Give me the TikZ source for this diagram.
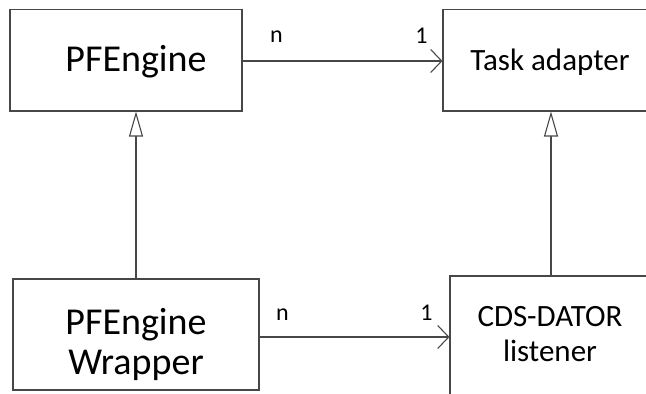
\documentclass[tikz,border=0pt]{standalone}
\usepackage{fontspec}
\setmainfont{Carlito}
\usetikzlibrary{arrows.meta}
\tikzset{
  umlbox/.style={draw=black!72, line width=1.1pt, fill=white, inner sep=0pt},
  bigtxt/.style={font=\fontsize{38}{40}\selectfont, inner sep=0pt, align=center},
  midtxt/.style={font=\fontsize{31}{35}\selectfont, inner sep=0pt, align=center},
  multtxt/.style={font=\fontsize{24}{28}\selectfont, inner sep=0pt, anchor=base},
  assoc/.style={draw=black!72, line width=1.1pt, -{Straight Barb[length=11pt,width=23pt,line width=1.1pt]}},
  inherit/.style={draw=black!72, line width=1.1pt, -{Triangle[open,length=25pt,width=14pt,line width=1.1pt,fill=white]}}
}
\begin{document}
\begin{tikzpicture}[x=1pt,y=-1pt]
  \useasboundingbox (0,0) rectangle (646,394);
  \clip (0,0) rectangle (646,394);
  \fill[white] (0,0) rectangle (646,394);

  % class boxes
  \node[umlbox, minimum width=232pt, minimum height=101.5pt] (pfe) at (126,60.25) {};
  \node[umlbox, minimum width=214pt, minimum height=101.5pt] (task) at (550,60.25) {};
  \node[umlbox, minimum width=246pt, minimum height=111pt] (wrap) at (136,334.5) {};
  \node[umlbox, minimum width=200pt, minimum height=140pt] (cds) at (550,346) {};

  % class names
  \node[bigtxt, anchor=base] (pfet) at (136,71.7) {PFEngine};
  \node[midtxt, anchor=base] (taskt) at (550,70) {Task adapter};
  \node[bigtxt] (wrapt) at (136,344) {PFEngine\\Wrapper};
  \node[midtxt] (cdst) at (550,334.5) {CDS-DATOR\\listener};

  % connection points
  \coordinate (pfeR) at (pfe.east |- 0,61);
  \coordinate (taskL) at (task.west |- 0,61);
  \coordinate (wrapR) at (wrap.east |- 0,337);
  \coordinate (cdsL) at (cds.west |- 0,337);
  \coordinate (pfeB) at (136,0 |- pfe.south);
  \coordinate (wrapT) at (136,0 |- wrap.north);
  \coordinate (taskB) at (551,0 |- task.south);
  \coordinate (cdsT) at (551,0 |- cds.north);

  % associations
  \draw[assoc] (pfeR) -- (taskL);
  \draw[assoc] (wrapR) -- (cdsL);

  % generalisations
  \draw[inherit] (wrapT) -- (pfeB);
  \draw[inherit] (cdsT) -- (taskB);

  % multiplicities
  \node[multtxt] (m1) at (276.5,42.5) {n};
  \node[multtxt] (m2) at (421.5,43) {1};
  \node[multtxt] (m3) at (282.5,320.5) {n};
  \node[multtxt] (m4) at (426.5,320) {1};
\end{tikzpicture}
\end{document}
